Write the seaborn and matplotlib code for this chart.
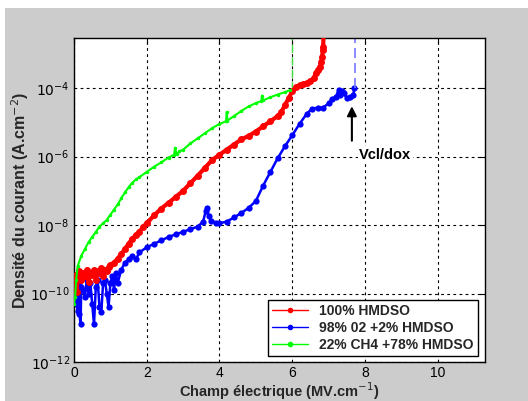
import numpy as np
import pandas as pd
import seaborn as sns
import matplotlib
matplotlib.use("Agg")
import matplotlib.pyplot as plt
from matplotlib.patches import Rectangle

# ---- data (x in MV/cm, log10 of current density in A/cm^2) ----
red_x = [0.02, 0.05, 0.08, 0.10, 0.15, 0.20, 0.25, 0.30, 0.35, 0.40, 0.45, 0.50, 0.55,
         0.60, 0.65, 0.70, 0.75, 0.80, 0.85, 0.90, 0.95, 1.00, 1.10, 1.20, 1.30, 1.40,
         1.50, 1.60, 1.70, 1.80, 1.90, 2.00, 2.20, 2.40, 2.60, 2.80, 3.00, 3.20, 3.40,
         3.60, 3.80, 4.00, 4.20, 4.40, 4.60, 4.80, 5.00, 5.20, 5.40, 5.60, 5.70, 5.80,
         5.90, 6.00, 6.10, 6.20, 6.30, 6.40, 6.50, 6.60, 6.65, 6.70, 6.75, 6.80, 6.82,
         6.84, 6.85, 6.87]
red_log = [-9.90, -9.45, -9.95, -9.50, -9.35, -9.60, -9.40, -9.50, -9.30, -9.65, -9.40,
           -9.45, -9.30, -9.60, -9.35, -9.40, -9.25, -9.50, -9.30, -9.35, -9.22, -9.18,
           -9.10, -8.98, -8.85, -8.70, -8.55, -8.40, -8.30, -8.20, -8.05, -7.95, -7.72,
           -7.52, -7.35, -7.18, -7.00, -6.78, -6.56, -6.33, -6.10, -5.95, -5.80, -5.65,
           -5.50, -5.40, -5.27, -5.12, -4.97, -4.82, -4.70, -4.50, -4.30, -4.10, -3.98,
           -3.92, -3.88, -3.85, -3.80, -3.70, -3.55, -3.48, -3.40, -3.25, -3.10, -2.90,
           -2.80, -2.20]

blue_x = [0.02, 0.05, 0.08, 0.10, 0.13, 0.15, 0.18, 0.20, 0.25, 0.30, 0.35, 0.40, 0.45,
          0.50, 0.55, 0.60, 0.65, 0.70, 0.75, 0.80, 0.85, 0.90, 0.95, 1.00, 1.05, 1.10,
          1.15, 1.20, 1.30, 1.40, 1.50, 1.60, 1.70, 1.80, 2.00, 2.20, 2.40, 2.60, 2.80,
          3.00, 3.20, 3.40, 3.55, 3.62, 3.65, 3.70, 3.78, 3.90, 4.00, 4.20, 4.40, 4.60,
          4.80, 5.00, 5.20, 5.40, 5.60, 5.80, 6.00, 6.20, 6.40, 6.55, 6.70, 6.85, 7.00,
          7.10, 7.20, 7.28, 7.32, 7.38, 7.42, 7.50, 7.60, 7.68, 7.71]
blue_log = [-9.80, -10.3, -9.60, -10.5, -9.70, -10.6, -10.9, -9.80, -9.90, -10.1, -9.60,
            -10.0, -9.70, -10.3, -10.9, -9.80, -9.60, -10.4, -10.55, -9.70, -9.60, -10.0,
            -10.4, -9.70, -9.50, -9.90, -9.40, -9.70, -9.30, -9.10, -9.00, -8.90, -9.00,
            -8.80, -8.65, -8.55, -8.45, -8.35, -8.27, -8.20, -8.12, -8.05, -7.90, -7.60,
            -7.50, -7.75, -7.88, -7.93, -7.95, -7.90, -7.78, -7.65, -7.50, -7.30, -6.85,
            -6.45, -6.05, -5.70, -5.38, -5.05, -4.75, -4.60, -4.58, -4.57, -4.45, -4.32,
            -4.25, -4.05, -4.20, -4.08, -4.15, -4.30, -4.27, -4.20, -4.00]

green_x = [0.00, 0.03, 0.06, 0.10, 0.20, 0.30, 0.40, 0.50, 0.60, 0.70, 0.80, 0.90, 1.00,
           1.10, 1.20, 1.30, 1.40, 1.50, 1.60, 1.70, 1.80, 2.00, 2.20, 2.40, 2.60, 2.75,
           2.78, 2.82, 2.90, 3.00, 3.20, 3.40, 3.60, 3.80, 4.00, 4.18, 4.20, 4.22, 4.40,
           4.60, 4.80, 5.00, 5.15, 5.17, 5.20, 5.40, 5.60, 5.80, 5.95]
green_log = [-10.3, -10.1, -9.60, -9.20, -8.90, -8.70, -8.50, -8.35, -8.20, -8.05, -7.95,
             -7.85, -7.70, -7.55, -7.40, -7.22, -7.05, -6.90, -6.77, -6.67, -6.60, -6.45,
             -6.30, -6.17, -6.03, -5.95, -5.75, -5.93, -5.85, -5.80, -5.62, -5.47, -5.32,
             -5.17, -5.05, -4.97, -4.70, -4.95, -4.82, -4.67, -4.54, -4.44, -4.38, -4.22,
             -4.36, -4.27, -4.19, -4.12, -4.06]

# vertical breakdown lines (x, start log10)
green_break = (6.00, -4.06)
blue_break = (7.72, -4.00)

labels = ["100% HMDSO", "98% 02 +2% HMDSO", "22% CH4 +78% HMDSO"]
colors = ["#ff0000", "#0000ff", "#00ff00"]

xticks = [0, 2, 4, 6, 8, 10]
yticks_exp = [-12, -10, -8, -6, -4]

df = pd.concat([
    pd.DataFrame({"x": red_x, "y": np.power(10.0, red_log), "s": labels[0]}),
    pd.DataFrame({"x": blue_x, "y": np.power(10.0, blue_log), "s": labels[1]}),
    pd.DataFrame({"x": green_x, "y": np.power(10.0, green_log), "s": labels[2]}),
], ignore_index=True)

sns.set_style("white")
plt.rcParams["font.family"] = ["Liberation Sans", "DejaVu Sans"]

fig = plt.figure(figsize=(5.28, 4.01), dpi=100, facecolor="white")
bg = Rectangle((5 / 528, 0), 1, 1 - 8 / 401, transform=fig.transFigure,
               facecolor="#cccccc", edgecolor="none", zorder=-10)
fig.add_artist(bg)
ax = fig.add_axes([74 / 528, 1 - 362 / 401, 411 / 528, 324 / 401])
ax.set_zorder(1)
ax.set_facecolor("white")

for lab, c, lw, ms in zip(labels, colors, [3.0, 1.8, 1.5], [5.0, 4.5, 2.5]):
    sub = df[df["s"] == lab]
    sns.lineplot(data=sub, x="x", y="y", ax=ax, color=c, estimator=None, sort=False,
                 linewidth=lw, marker="o", markersize=ms, markeredgewidth=0, label=lab,
                 zorder=3 if lab != labels[1] else 2)

ax.set_yscale("log")
top = 10 ** -2.54
ax.plot([green_break[0], green_break[0]], [10 ** green_break[1], top * 2],
        color="#44dd44", lw=1.0, ls=(0, (6, 3)), zorder=2)
ax.plot([blue_break[0], blue_break[0]], [10 ** blue_break[1], top * 2],
        color="#7777ff", lw=1.2, ls=(0, (6, 3)), zorder=2)

ax.set_xlim(0, 11.3)
ax.set_ylim(1e-12, top)
ax.set_xticks(xticks)
ax.set_xticklabels([str(t) for t in xticks])
ax.set_yticks([10.0 ** e for e in yticks_exp])
ax.set_yticklabels([r"$10^{%d}$" % e for e in yticks_exp])
ax.yaxis.set_minor_locator(matplotlib.ticker.NullLocator())
ax.tick_params(direction="in", length=4, width=0.8, labelsize=10, colors="black",
               top=True, right=True, pad=3)
ax.grid(True, color="black", linestyle=(0, (2.5, 3)), linewidth=0.8)
for sp in ax.spines.values():
    sp.set_color("black")
    sp.set_linewidth(1.0)

ax.set_xlabel(r"Champ électrique (MV.cm$^{-1}$)", fontsize=10.5, fontweight="bold")
ax.set_ylabel(r"Densité du courant (A.cm$^{-2}$)", fontsize=11.5, fontweight="bold")
ax.xaxis.set_label_coords(0.5, (362 - 380) / 324)
ax.yaxis.set_label_coords((31 - 74) / 411, 0.5)

ax.annotate("", xy=(7.64, 10 ** -4.45), xytext=(7.64, 10 ** -5.62),
            arrowprops=dict(arrowstyle="-|>", color="black", lw=1.5, mutation_scale=14))
ax.text(7.84, 10 ** -5.95, "Vcl/dox", fontsize=10.5, fontweight="bold", va="center",
        ha="left", color="black",
        bbox=dict(facecolor="white", edgecolor="none", pad=1))

leg = ax.legend(loc="lower right", bbox_to_anchor=(0.983, 0.0185), frameon=True,
                fancybox=False, edgecolor="black", framealpha=1, fontsize=10,
                handlelength=2.6, borderpad=0.3, labelspacing=0.2, handletextpad=0.8,
                borderaxespad=0)
leg.get_frame().set_linewidth(1.0)
for t in leg.get_texts():
    t.set_fontweight("bold")
for h in leg.get_lines():
    h.set_linewidth(1.0)
    h.set_markersize(4)

fig.savefig("out.png", dpi=100, facecolor=fig.get_facecolor())
